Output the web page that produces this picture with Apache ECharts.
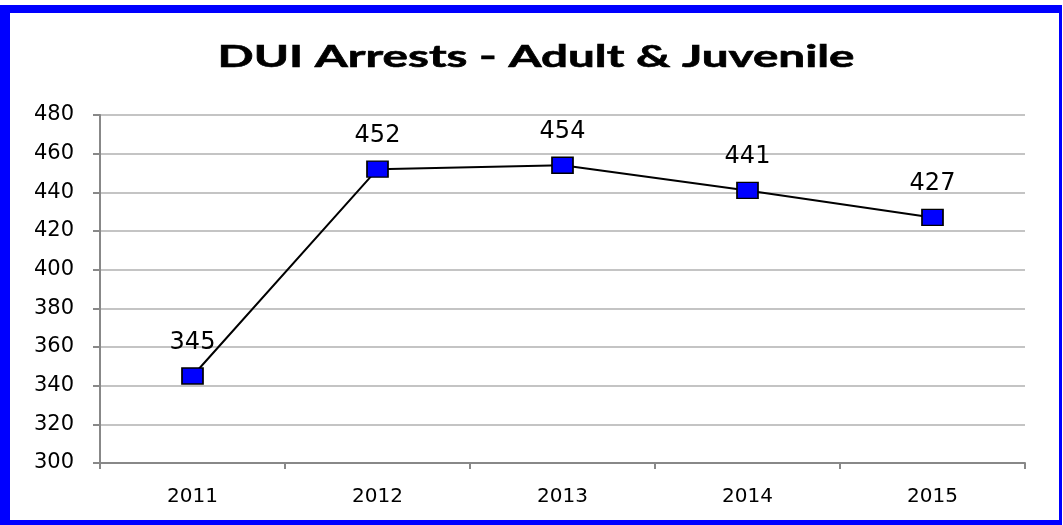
<!DOCTYPE html>
<html><head><meta charset="utf-8">
<script src="https://cdn.jsdelivr.net/npm/echarts@6/dist/echarts.min.js"></script>
<style>
html,body{margin:0;padding:0;background:#fff;width:1063px;height:525px;overflow:hidden;}
#frame{position:absolute;left:0;top:5px;width:1049px;height:507px;border-style:solid;border-color:#0000FF;border-width:8px 3px 5px 10px;}
#chart{position:absolute;left:0;top:0;width:1063px;height:525px;}
</style></head>
<body>
<div id="frame"></div>
<div id="chart"></div>
<script>
const titleText = 'DUI Arrests - Adult & Juvenile';
const categories = ['2011','2012','2013','2014','2015'];
const arrests = [345, 452, 454, 441, 427];
const yTicks = {min: 300, max: 480, interval: 20};

const titleFont = 'bold 31px Lato';
const ctx = document.createElement('canvas').getContext('2d');
ctx.font = titleFont;
const titleW = ctx.measureText(titleText).width;
const titleScale = 637 / titleW;

const chart = echarts.init(document.getElementById('chart'));
chart.setOption({
  animation: false,
  graphic: [{
    type: 'text',
    x: 536, y: 57,
    scaleX: titleScale,
    style: {text: titleText, font: titleFont, fill: '#000', stroke: '#000', lineWidth: 0.6, align: 'center', verticalAlign: 'middle'}
  }],
  grid: {left: 100, right: 38, top: 115, bottom: 62},
  xAxis: {
    type: 'category', data: categories, boundaryGap: true,
    axisLine: {lineStyle: {color: '#888', width: 2}},
    axisTick: {show: true, length: 6, lineStyle: {color: '#888', width: 2}},
    axisLabel: {color: '#000', fontFamily: 'DejaVu Sans', fontSize: 20, margin: 24}
  },
  yAxis: {
    type: 'value', min: yTicks.min, max: yTicks.max, interval: yTicks.interval,
    axisLine: {show: true, lineStyle: {color: '#888', width: 2}},
    axisTick: {show: true, length: 7, lineStyle: {color: '#888', width: 2}},
    splitLine: {lineStyle: {color: '#c4c4c4', width: 2}},
    axisLabel: {color: '#000', fontFamily: 'DejaVu Sans', fontSize: 21, margin: 26}
  },
  series: [{
    type: 'line', data: arrests,
    symbol: 'rect', symbolSize: [21, 16],
    itemStyle: {color: '#0000FF', borderColor: '#000', borderWidth: 1.5},
    lineStyle: {color: '#000', width: 2},
    label: {show: true, position: 'top', distance: 13, color: '#000', fontFamily: 'DejaVu Sans', fontSize: 24}
  }]
});
</script>
</body></html>
